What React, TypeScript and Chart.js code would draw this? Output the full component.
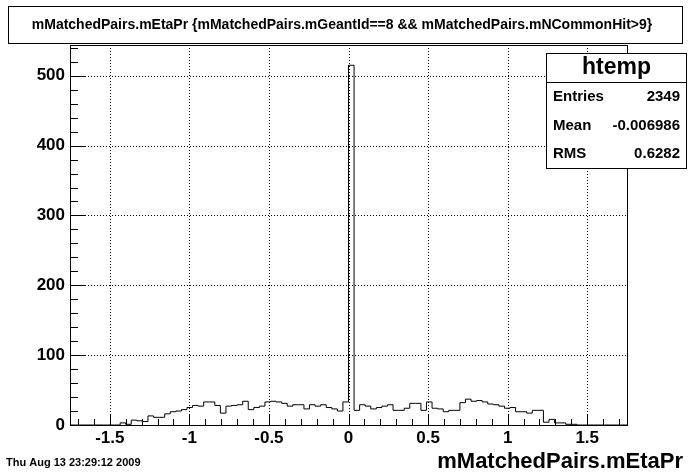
import React, { useEffect, useRef } from "react";
import { Chart, registerables } from "chart.js";

Chart.register(...registerables);

// ---------- data ----------
const xMin = -1.75;
const xMax = 1.75;
const yMax = 544;

// 100 bins of width 0.035 from -1.75 to 1.75
const binCounts = [
  0, 0, 0, 0, 0, 0, 0, 0, 0, 3,
  1, 7, 6, 5, 13, 11, 11, 16, 19, 20,
  22, 25, 28, 27, 33, 33, 28, 17, 27, 28,
  29, 34, 22, 25, 27, 33, 34, 33, 31, 27,
  29, 29, 23, 29, 27, 29, 25, 23, 20, 33,
  515, 21, 29, 27, 23, 25, 27, 29, 21, 21,
  24, 31, 31, 21, 33, 24, 23, 19, 21, 21,
  32, 37, 34, 35, 33, 30, 29, 27, 24, 25,
  19, 19, 17, 21, 21, 4, 8, 3, 3, 1,
  1, 0, 0, 0, 0, 0, 0, 0, 0, 0,
];

const xTickValues = [-1.5, -1, -0.5, 0, 0.5, 1, 1.5];
const xTickLabels = ["-1.5", "-1", "-0.5", "0", "0.5", "1", "1.5"];
const yTickValues = [0, 100, 200, 300, 400, 500];
const yTickLabels = ["0", "100", "200", "300", "400", "500"];

const titleText =
  "mMatchedPairs.mEtaPr {mMatchedPairs.mGeantId==8 && mMatchedPairs.mNCommonHit>9}";
const xAxisTitle = "mMatchedPairs.mEtaPr";
const dateText = "Thu Aug 13 23:29:12 2009";
const statsName = "htemp";
const statsLabels = ["Entries", "Mean", "RMS"];
const statsValues = ["2349", "-0.006986", "0.6282"];

const FONT = '"Liberation Sans", Arial, Helvetica, sans-serif';

export default function App() {
  const canvasRef = useRef<HTMLCanvasElement | null>(null);

  useEffect(() => {
    document.body.style.margin = "0";
    const canvas = canvasRef.current;
    if (!canvas) return;

    const binWidth = (xMax - xMin) / binCounts.length;
    const points = binCounts.map((c, i) => ({ x: xMin + i * binWidth, y: c }));
    points.push({ x: xMax, y: 0 });

    const decor = {
      id: "rootDecor",
      beforeDraw(chart: any) {
        const ctx = chart.ctx;
        ctx.save();
        ctx.fillStyle = "#ffffff";
        ctx.fillRect(0, 0, chart.width, chart.height);
        ctx.restore();
      },
      beforeDatasetsDraw(chart: any) {
        const ctx = chart.ctx;
        const { left, right, top, bottom } = chart.chartArea;
        const xs = chart.scales.x;
        const ys = chart.scales.y;
        ctx.save();
        ctx.strokeStyle = "#000";
        ctx.lineWidth = 1;
        ctx.setLineDash([1, 2]);
        xTickValues.forEach((v) => {
          const px = Math.round(xs.getPixelForValue(v)) + 0.5;
          ctx.beginPath();
          ctx.moveTo(px, top);
          ctx.lineTo(px, bottom);
          ctx.stroke();
        });
        yTickValues.forEach((v) => {
          if (v === 0) return;
          const py = Math.round(ys.getPixelForValue(v)) + 0.5;
          ctx.beginPath();
          ctx.moveTo(left, py);
          ctx.lineTo(right, py);
          ctx.stroke();
        });
        ctx.restore();
      },
      afterDraw(chart: any) {
        const ctx = chart.ctx;
        const { left, right, top, bottom } = chart.chartArea;
        const xs = chart.scales.x;
        const ys = chart.scales.y;
        ctx.save();
        ctx.strokeStyle = "#000";
        ctx.fillStyle = "#000";
        ctx.lineWidth = 1;
        ctx.setLineDash([]);

        // frame
        ctx.strokeRect(Math.round(left) + 0.5, Math.round(top) + 0.5,
          Math.round(right - left), Math.round(bottom - top));

        // x ticks (inward)
        for (let k = -17; k <= 17; k++) {
          const v = k / 10;
          const major = k % 5 === 0;
          const px = Math.round(xs.getPixelForValue(v)) + 0.5;
          ctx.beginPath();
          ctx.moveTo(px, bottom);
          ctx.lineTo(px, bottom - (major ? 11 : 6));
          ctx.stroke();
        }
        // y ticks (inward)
        for (let v = 0; v <= 540; v += 20) {
          const major = v % 100 === 0;
          const py = Math.round(ys.getPixelForValue(v)) + 0.5;
          ctx.beginPath();
          ctx.moveTo(left, py);
          ctx.lineTo(left + (major ? 16 : 8), py);
          ctx.stroke();
        }

        // tick labels
        ctx.font = `bold 17px ${FONT}`;
        ctx.textAlign = "center";
        ctx.textBaseline = "middle";
        xTickValues.forEach((v, i) => {
          ctx.fillText(xTickLabels[i], xs.getPixelForValue(v), bottom + 13);
        });
        ctx.textAlign = "right";
        yTickValues.forEach((v, i) => {
          ctx.fillText(yTickLabels[i], left - 5, ys.getPixelForValue(v));
        });

        // axis title
        ctx.font = `bold 22px ${FONT}`;
        ctx.textAlign = "right";
        ctx.textBaseline = "alphabetic";
        ctx.fillText(xAxisTitle, 683, 468);

        // date
        ctx.font = `bold 11px ${FONT}`;
        ctx.textAlign = "left";
        ctx.fillText(dateText, 6, 466);

        // title box
        ctx.fillStyle = "#fff";
        ctx.fillRect(8.5, 6.5, 674, 37);
        ctx.strokeRect(8.5, 6.5, 674, 37);
        ctx.fillStyle = "#000";
        ctx.font = `bold 14px ${FONT}`;
        ctx.textAlign = "center";
        ctx.textBaseline = "middle";
        ctx.fillText(titleText, 342, 25);

        // stats box
        const bx = 546.5, by = 53.5, bw = 140, bh = 115;
        ctx.fillStyle = "#fff";
        ctx.fillRect(bx, by, bw, bh);
        ctx.strokeRect(bx, by, bw, bh);
        ctx.beginPath();
        ctx.moveTo(bx, 82.5);
        ctx.lineTo(bx + bw, 82.5);
        ctx.stroke();
        ctx.fillStyle = "#000";
        ctx.font = `bold 23px ${FONT}`;
        ctx.textAlign = "center";
        ctx.fillText(statsName, bx + bw / 2, 68);
        ctx.font = `bold 15px ${FONT}`;
        const rowY = [97, 126, 154];
        statsLabels.forEach((lab, i) => {
          ctx.textAlign = "left";
          ctx.fillText(lab, 553, rowY[i]);
          ctx.textAlign = "right";
          ctx.fillText(statsValues[i], 680, rowY[i]);
        });
        ctx.restore();
      },
    };

    const chart = new Chart(canvas, {
      type: "line",
      data: {
        datasets: [
          {
            data: points,
            stepped: "before",
            borderColor: "#000",
            borderWidth: 1,
            pointRadius: 0,
            fill: false,
            tension: 0,
          },
        ],
      },
      options: {
        animation: false,
        responsive: false,
        devicePixelRatio: 1,
        layout: { padding: { left: 70, top: 45, right: 69, bottom: 47 } },
        plugins: {
          legend: { display: false },
          tooltip: { enabled: false },
          title: { display: false },
        },
        scales: {
          x: { type: "linear", min: xMin, max: xMax, display: false },
          y: { type: "linear", min: 0, max: yMax, display: false },
        },
      },
      plugins: [decor],
    });

    return () => chart.destroy();
  }, []);

  return (
    <div style={{ width: 696, height: 472 }}>
      <canvas ref={canvasRef} width={696} height={472} style={{ display: "block" }} />
    </div>
  );
}
